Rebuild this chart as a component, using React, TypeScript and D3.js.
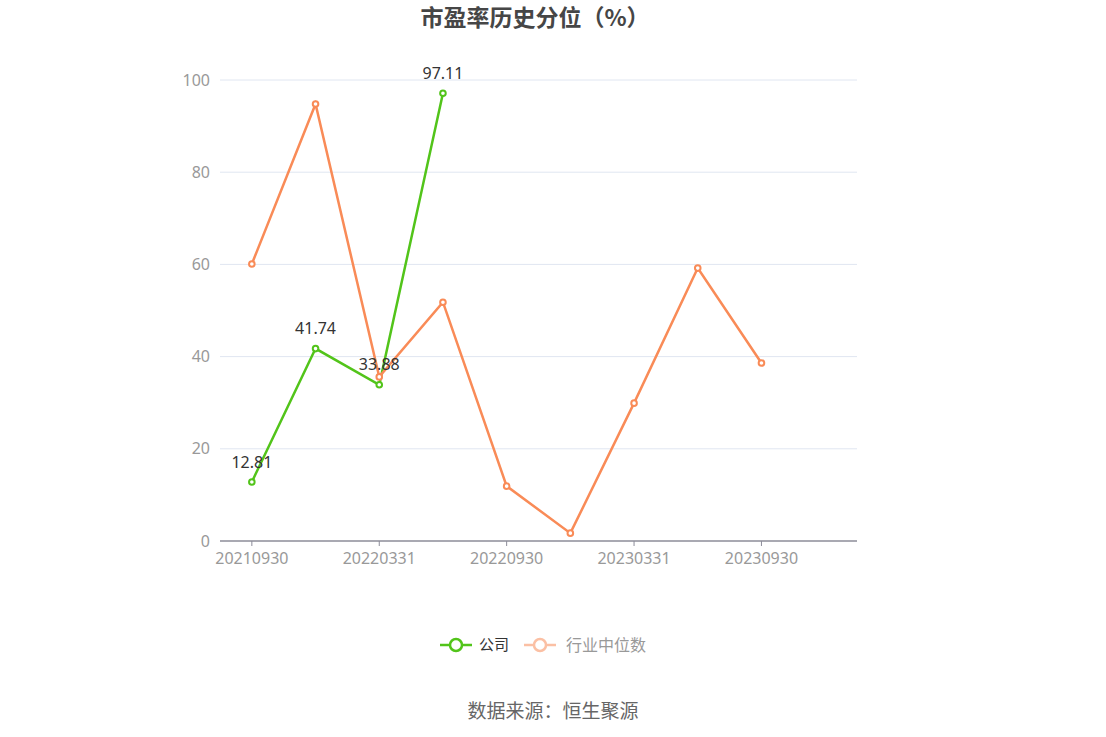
import * as React from 'react';
import { scaleBand, scaleLinear, line as d3line } from 'd3';

const periods = [
  '20210930', '20211231', '20220331', '20220630', '20220930',
  '20221231', '20230331', '20230630', '20230930', '20231231',
];
const company: (number | null)[] = [12.81, 41.74, 33.88, 97.11, null, null, null, null, null, null];
const industry: (number | null)[] = [60.1, 94.8, 35.6, 51.8, 11.9, 1.7, 29.9, 59.2, 38.6, null];
const yTicks = [0, 20, 40, 60, 80, 100];

const W = 1106;
const H = 737;
const left = 220;
const right = 857;
const top = 80;
const bottom = 541;

const GREEN = '#52c41a';
const ORANGE = '#f98b57';
const FONT = '"Noto Sans CJK SC", "Noto Sans", sans-serif';
const NUM_FONT = '"Noto Sans", "Noto Sans CJK SC", sans-serif';

export default function App() {
  const x = scaleBand<string>().domain(periods).range([left, right]);
  const cx = (p: string) => (x(p) ?? 0) + x.bandwidth() / 2;
  const y = scaleLinear().domain([0, 100]).range([bottom, top]);

  const mkLine = d3line<number | null>()
    .defined(v => v != null)
    .x((_, i) => cx(periods[i]))
    .y(v => y(v as number));

  const series = [
    { name: '公司', values: company, color: GREEN },
    { name: '行业中位数', values: industry, color: ORANGE },
  ];

  return (
    <svg width={W} height={H} style={{ position: 'absolute', left: 0, top: 0, fontFamily: FONT }}>
      <text x={535} y={18} dy="0.35em" textAnchor="middle" fontSize={23} fontWeight="bold" fill="#464646">
        市盈率历史分位（%）
      </text>

      {yTicks.map(t => (
        <g key={t}>
          {t > 0 && <line x1={left} x2={right} y1={y(t)} y2={y(t)} stroke="#e0e6f1" strokeWidth={1} />}
          <text x={210} y={y(t)} dy="0.35em" textAnchor="end" fontSize={16} fontFamily={NUM_FONT} fill="#999">{t}</text>
        </g>
      ))}

      <line x1={left} x2={right} y1={bottom} y2={bottom} stroke="#8c8c99" strokeWidth={1.5} />
      {periods.map((p, i) => i % 2 === 0 && (
        <g key={p}>
          <line x1={cx(p)} x2={cx(p)} y1={bottom} y2={bottom + 5} stroke="#8c8c99" strokeWidth={1} />
          <text x={cx(p)} y={bottom + 17} dy="0.35em" textAnchor="middle" fontSize={16} fontFamily={NUM_FONT} fill="#999">{p}</text>
        </g>
      ))}

      {series.map(s => (
        <g key={s.name}>
          <path d={mkLine(s.values) ?? ''} fill="none" stroke={s.color} strokeWidth={2.5} />
          {s.values.map((v, i) => v != null && (
            <circle key={i} cx={cx(periods[i])} cy={y(v)} r={2.8} fill="#fff" stroke={s.color} strokeWidth={2} />
          ))}
        </g>
      ))}

      {company.map((v, i) => v != null && (
        <text key={i} x={cx(periods[i])} y={y(v) - 20} dy="0.35em" textAnchor="middle" fontSize={16} fontFamily={NUM_FONT} fill="#333">
          {v.toFixed(2)}
        </text>
      ))}

      <g transform="translate(440,645)">
        <line x1={0} x2={32} y1={0} y2={0} stroke={GREEN} strokeWidth={2.5} />
        <circle cx={16} cy={0} r={6} fill="#fff" stroke={GREEN} strokeWidth={2.5} />
        <text x={39} y={0} dy="0.35em" fontSize={15} fill="#333">公司</text>
      </g>
      <g transform="translate(524,645)">
        <line x1={0} x2={32} y1={0} y2={0} stroke="#fbc0a4" strokeWidth={2.5} />
        <circle cx={16} cy={0} r={6} fill="#fff" stroke="#fbc0a4" strokeWidth={2.5} />
        <text x={42} y={0} dy="0.35em" fontSize={16} fill="#999">行业中位数</text>
      </g>

      <text x={553} y={711} dy="0.35em" textAnchor="middle" fontSize={19} fill="#666">
        数据来源：恒生聚源
      </text>
    </svg>
  );
}
